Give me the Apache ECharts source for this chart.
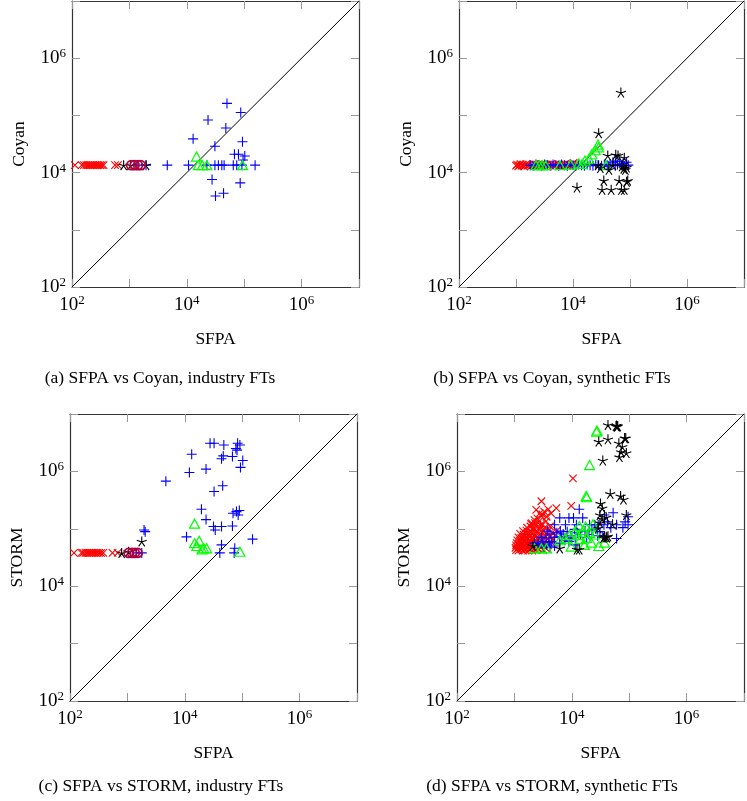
<!DOCTYPE html>
<html><head><meta charset="utf-8">
<script src="https://cdn.jsdelivr.net/npm/echarts@6/dist/echarts.min.js"></script>
<style>html,body{margin:0;padding:0;background:#fff}#c{width:747px;height:801px}</style>
</head><body><div id="c"></div>
<script>
// ---------- (a) SFPA vs Coyan, industry FTs ----------
const a_red = [[2.05,4.13],[2.17,4.13],[2.21,4.13],[2.25,4.13],[2.28,4.13],[2.31,4.13],[2.34,4.13],[2.37,4.13],[2.40,4.13],[2.43,4.13],[2.46,4.13],[2.49,4.13],[2.52,4.13],[2.55,4.13],[2.75,4.13],[2.80,4.13]];
const a_blue = [[3.13,4.13],[3.29,4.13],[3.66,4.13],[4.03,4.13],[4.11,4.59],[4.37,4.92],[4.49,4.46],[4.44,3.88],[4.50,3.59],[4.64,3.64],[4.70,5.21],[4.68,4.78],[4.94,5.05],[4.97,4.54],[4.83,4.32],[4.90,4.32],[5.01,4.29],[4.98,4.22],[4.93,3.82],[5.19,4.13],[4.35,4.13],[4.49,4.13],[4.61,4.13],[4.65,4.13],[4.81,4.13],[4.87,4.13],[4.96,4.13],[4.55,4.13]];
const a_green = [[4.17,4.28],[4.20,4.13],[4.27,4.13],[4.35,4.13],[4.97,4.13]];
const a_black = [[2.90,4.13],[3.02,4.13],[3.29,4.13]];
const a_purple = [[3.03,4.13],[3.09,4.13],[3.15,4.13],[3.20,4.13]];
// ---------- (b) SFPA vs Coyan, synthetic FTs ----------
const b_red = [[3.00,4.12],[3.02,4.14],[3.04,4.11],[3.06,4.13],[3.08,4.15],[3.10,4.12],[3.12,4.14],[3.14,4.11],[3.16,4.13],[3.18,4.15],[3.20,4.12],[3.23,4.14],[3.26,4.11],[3.29,4.13],[3.32,4.15],[3.35,4.12],[3.38,4.14],[3.41,4.11],[3.44,4.13],[3.47,4.15],[3.50,4.12],[3.53,4.14],[3.56,4.11],[3.59,4.13],[3.62,4.15],[3.65,4.12],[3.68,4.14],[3.71,4.13],[3.74,4.15],[3.77,4.12],[3.80,4.14],[3.83,4.13],[3.86,4.15],[3.89,4.12],[3.92,4.14],[3.95,4.13],[3.98,4.15],[4.01,4.17],[4.04,4.13]];
const b_blue = [[3.25,4.13],[3.30,4.12],[3.35,4.14],[3.40,4.13],[3.45,4.12],[3.50,4.14],[3.55,4.13],[3.60,4.12],[3.65,4.14],[3.70,4.13],[3.75,4.12],[3.80,4.14],[3.85,4.13],[3.90,4.12],[3.95,4.14],[4.00,4.13],[4.05,4.12],[4.10,4.14],[4.15,4.13],[4.20,4.12],[4.25,4.14],[4.30,4.13],[4.35,4.12],[4.40,4.14],[4.45,4.13],[4.50,4.12],[4.55,4.14],[4.60,4.13],[4.65,4.15],[4.70,4.18],[4.74,4.12],[4.78,4.14],[4.82,4.19],[4.85,4.13],[4.88,4.16],[4.91,4.12],[4.94,4.18],[4.97,4.13],[4.75,4.20],[4.62,4.11]];
const b_green = [[3.35,4.13],[3.41,4.13],[3.46,4.13],[3.52,4.13],[3.77,4.13],[3.96,4.14],[4.10,4.16],[4.16,4.15],[4.21,4.21],[4.28,4.24],[4.33,4.32],[4.39,4.39],[4.44,4.49],[4.45,4.44],[4.58,4.13]];
const b_black = [[4.84,5.40],[4.45,4.69],[4.07,3.74],[4.61,4.30],[4.75,4.31],[4.79,4.30],[4.90,4.26],[4.48,4.08],[4.63,4.05],[4.89,4.07],[4.92,4.05],[4.94,4.09],[4.54,3.86],[4.81,3.86],[4.96,3.86],[4.94,3.84],[4.51,3.70],[4.67,3.70],[4.85,3.70],[4.90,3.70],[4.44,4.13],[4.70,4.13],[4.86,4.11]];
const b_purple = [];
// ---------- (c) SFPA vs STORM, industry FTs ----------
const c_red = [[2.07,4.58],[2.20,4.58],[2.23,4.58],[2.27,4.58],[2.30,4.58],[2.33,4.58],[2.36,4.58],[2.39,4.58],[2.42,4.58],[2.45,4.58],[2.48,4.58],[2.51,4.58],[2.54,4.58],[2.58,4.58],[2.74,4.58],[2.83,4.58]];
const c_blue = [[3.29,4.98],[3.31,4.95],[3.16,4.58],[3.25,4.58],[3.67,5.83],[4.03,4.86],[4.08,5.98],[4.12,6.30],[4.29,5.34],[4.37,6.04],[4.37,5.16],[4.44,6.49],[4.51,6.49],[4.51,5.65],[4.50,5.04],[4.53,4.98],[4.64,5.04],[4.64,6.22],[4.67,6.27],[4.68,6.46],[4.66,5.75],[4.64,4.72],[4.61,4.58],[4.83,6.26],[4.84,5.27],[4.83,5.05],[4.87,4.66],[4.89,6.40],[4.92,6.49],[4.96,6.46],[4.91,6.37],[4.93,5.24],[4.90,5.30],[4.95,5.32],[5.01,6.19],[4.97,6.07],[5.18,4.82],[4.86,4.58]];
const c_green = [[4.17,5.09],[4.17,4.75],[4.25,4.79],[4.21,4.70],[4.33,4.66],[4.38,4.66],[4.30,4.64],[4.96,4.60]];
const c_black = [[2.90,4.58],[3.02,4.60],[3.25,4.78]];
const c_purple = [[3.02,4.58],[3.08,4.58],[3.13,4.58],[3.18,4.58]];
// ---------- (d) SFPA vs STORM, synthetic FTs ----------
const d_red = [[4.02,5.88],[3.47,5.48],[3.59,5.34],[3.73,5.36],[3.99,5.40],[3.38,5.33],[3.44,5.27],[3.49,5.25],[3.56,5.21],[3.64,5.27],[3.35,5.15],[3.30,5.10],[3.52,5.30],
 [3.03,4.63],[3.07,4.62],[3.12,4.64],[3.15,4.62],[3.19,4.63],[3.24,4.62],[3.28,4.64],[3.31,4.62],[3.37,4.63],[3.43,4.64],[3.50,4.63],
 [3.02,4.67],[3.06,4.66],[3.10,4.68],[3.14,4.67],[3.18,4.66],[3.22,4.68],[3.27,4.66],[3.30,4.67],[3.35,4.69],[3.40,4.66],[3.46,4.68],[3.54,4.67],
 [3.03,4.71],[3.08,4.72],[3.11,4.70],[3.16,4.71],[3.21,4.73],[3.24,4.70],[3.29,4.72],[3.33,4.71],[3.38,4.73],[3.44,4.70],[3.51,4.72],[3.59,4.71],
 [3.04,4.75],[3.09,4.76],[3.13,4.74],[3.18,4.77],[3.22,4.75],[3.26,4.76],[3.30,4.74],[3.35,4.77],[3.41,4.75],[3.48,4.78],[3.56,4.75],[3.64,4.77],
 [3.05,4.80],[3.10,4.79],[3.15,4.81],[3.19,4.80],[3.24,4.82],[3.28,4.79],[3.32,4.81],[3.37,4.80],[3.43,4.82],[3.50,4.80],[3.58,4.83],[3.67,4.81],
 [3.07,4.85],[3.12,4.84],[3.17,4.86],[3.21,4.85],[3.26,4.87],[3.31,4.84],[3.36,4.86],[3.41,4.85],[3.47,4.88],[3.54,4.86],[3.63,4.87],[3.71,4.89],
 [3.10,4.91],[3.16,4.90],[3.21,4.92],[3.26,4.91],[3.31,4.93],[3.36,4.90],[3.42,4.92],[3.48,4.94],[3.56,4.91],[3.66,4.93],
 [3.15,4.96],[3.21,4.97],[3.26,4.95],[3.32,4.98],[3.38,4.96],[3.44,4.99],[3.51,4.97],[3.60,4.98],[3.74,4.97],
 [3.22,5.02],[3.28,5.04],[3.34,5.01],[3.40,5.03],[3.46,5.05],[3.53,5.02],[3.62,5.04],
 [3.29,5.08],[3.36,5.10],[3.42,5.12],[3.48,5.09],[3.55,5.13],[3.40,5.18],[3.47,5.22]];
const d_blue = [[4.13,5.34],[4.72,5.28],[4.57,5.24],[4.98,5.21],[3.79,5.19],[3.95,5.19],[4.03,5.19],[4.19,5.19],[3.70,5.07],[3.89,5.07],[4.08,5.07],[4.31,5.07],[4.40,5.07],[4.46,5.07],[4.56,5.07],[4.78,5.07],[4.89,5.02],[4.98,5.07],[3.80,4.96],[3.85,4.91],[3.92,4.95],[3.98,4.88],[3.82,4.86],[3.58,4.96],[3.62,4.91],[3.55,4.84],[3.65,4.78],[3.60,4.76],[3.47,4.85],[3.49,4.78],[3.42,4.75],[4.15,4.90],[4.23,4.96],[4.26,4.85],[4.78,4.83],[4.49,4.95],[4.54,4.87],[3.79,4.75],[3.88,4.80],[3.35,4.75],[3.41,4.72],[3.56,4.72],[3.70,4.85],[3.74,4.93],[4.05,4.99],[4.10,4.93],[4.35,4.98],[4.42,5.00],[4.62,5.12],[4.68,5.02],[3.95,4.78],[4.00,4.84],[3.70,4.70],[3.62,4.68],[3.50,4.68],[4.30,4.90],[4.45,4.88],[4.06,4.72],[4.93,5.12]];
const d_green = [[4.44,6.71],[4.43,6.69],[4.31,6.11],[4.25,5.57],[4.26,5.55],[4.13,5.05],[4.24,5.04],[4.37,5.08],[4.11,4.89],[3.96,4.89],[3.79,4.80],[3.99,4.69],[4.15,4.82],[4.26,4.84],[4.31,4.93],[4.40,4.90],[4.57,4.76],[4.34,4.76],[3.35,4.66],[3.47,4.66],[3.56,4.66],[3.88,4.83],[4.05,4.95],[4.20,4.98],[4.47,4.70],[4.22,4.72]];
const d_black = [[4.63,6.81],[4.77,6.79],[4.79,6.78],[4.80,6.79],[4.78,6.80],[4.92,6.58],[4.47,6.52],[4.63,6.56],[4.82,6.49],[4.88,6.43],[4.94,6.58],[4.95,6.32],[4.83,6.25],[4.86,6.34],[4.54,6.19],[4.67,5.61],[4.85,5.57],[4.90,5.51],[4.50,5.44],[4.53,5.36],[4.95,5.24],[4.49,5.24],[4.60,5.20],[4.53,5.17],[4.71,5.08],[4.46,5.01],[4.49,5.10],[4.57,4.86],[4.60,4.86],[4.63,4.87],[4.55,4.84],[3.79,4.66],[4.13,4.64],[4.09,4.64],[3.32,4.70],[4.61,4.85]];
const d_purple = [];
// diagonal y = x
const diagonal = [[1e2,1e2],[1e7,1e7]];
const axisMin = 1e2, axisMax = 1e7;
const xTitle = 'SFPA';
const yTitles = ['Coyan','Coyan','STORM','STORM'];
const captions = ['(a) SFPA vs Coyan, industry FTs','(b) SFPA vs Coyan, synthetic FTs','(c) SFPA vs STORM, industry FTs','(d) SFPA vs STORM, synthetic FTs'];

const panels = [
  {red:a_red, blue:a_blue, green:a_green, black:a_black, purple:a_purple},
  {red:b_red, blue:b_blue, green:b_green, black:b_black, purple:b_purple},
  {red:c_red, blue:c_blue, green:c_green, black:c_black, purple:c_purple},
  {red:d_red, blue:d_blue, green:d_green, black:d_black, purple:d_purple}
];
// layout
const gridPos = [{left:72,top:1,w:287,h:286},{left:459,top:1,w:287,h:286},{left:70,top:414,w:287,h:287},{left:457,top:414,w:287,h:287}];
const capPos = [[160,378],[552,378],[161,786],[552,786]];

const FONT = '"Liberation Serif", "Times New Roman", serif';
const SYM = {
  plus: 'path://M5 0L5 10M0 5L10 5',
  cross: 'path://M0 0L10 10M10 0L0 10',
  star: 'path://M5 5L5 0M5 5L9.755 3.455M5 5L7.939 9.045M5 5L2.061 9.045M5 5L0.245 3.455'
};
const toVal = arr => arr.map(p => [Math.pow(10,p[0]), Math.pow(10,p[1])]);
const lbl = v => { const e = Math.round(Math.log10(v)); return (e % 2 === 0) ? '{b|10}{s|' + e + '}' : ''; };
const rich = { b:{fontSize:19, fontFamily:FONT, color:'#000', lineHeight:22}, s:{fontSize:13, fontFamily:FONT, color:'#000', verticalAlign:'top', lineHeight:22} };
const tickStyle = {show:true, inside:true, length:8, lineStyle:{color:'#999', width:1}};
const lineStyle = {show:true, lineStyle:{color:'#333', width:1.2}};

const grid=[], xAxis=[], yAxis=[], series=[], graphic=[];
gridPos.forEach((g,i) => {
  grid.push({left:g.left, top:g.top, width:g.w, height:g.h, containLabel:false, show:false});
  const base = {type:'log', logBase:10, gridIndex:i, min:axisMin, max:axisMax, splitNumber:5, splitLine:{show:false}, minorTick:{show:false}, axisLine:lineStyle, axisTick:tickStyle};
  xAxis.push(Object.assign({}, base, {position:'bottom', name:xTitle, nameLocation:'middle', nameGap:43,
    nameTextStyle:{fontSize:17.5, fontFamily:FONT, color:'#000'},
    axisLabel:{show:true, margin:7, formatter:lbl, rich:rich, showMinLabel:true, showMaxLabel:true}}));
  xAxis.push(Object.assign({}, base, {position:'top', axisLabel:{show:false}}));
  yAxis.push(Object.assign({}, base, {position:'left', name:yTitles[i], nameLocation:'middle', nameGap:44, nameRotate:90,
    nameTextStyle:{fontSize:17.5, fontFamily:FONT, color:'#000'},
    axisLabel:{show:true, margin:6, formatter:lbl, rich:rich, showMinLabel:true, showMaxLabel:true}}));
  yAxis.push(Object.assign({}, base, {position:'right', axisLabel:{show:false}}));
  const xi = 2*i, yi = 2*i;
  series.push({type:'line', xAxisIndex:xi, yAxisIndex:yi, data:diagonal, symbol:'none', silent:true, lineStyle:{color:'#000', width:1}, z:1});
  const p = panels[i];
  const mk = (data, symbol, size, color, w) => ({type:'scatter', xAxisIndex:xi, yAxisIndex:yi, data:toVal(data), symbol:symbol, symbolSize:size, silent:true,
      itemStyle:{color:'rgba(0,0,0,0)', borderColor:color, borderWidth:w, opacity:1}, z:2});
  series.push(mk(p.red, SYM.cross, 7.5, '#ff0000', 1.1));
  series.push(mk(p.blue, SYM.plus, 10, '#0000ff', 1.1));
  series.push(mk(p.green, 'triangle', [10,9], '#00ff00', 1.2));
  series.push(mk(p.black, SYM.star, 10, '#000000', 1.1));
  series.push(mk(p.purple, 'circle', 9, '#b00040', 1.7));
  graphic.push({type:'text', x:capPos[i][0], y:capPos[i][1], style:{text:captions[i], font:'17.5px ' + FONT, fill:'#000', textAlign:'center', textVerticalAlign:'middle', align:'center', verticalAlign:'middle'}});
});

const chart = echarts.init(document.getElementById('c'), null, {renderer:'canvas'});
chart.setOption({animation:false, backgroundColor:'#fff', grid, xAxis, yAxis, series, graphic});
</script></body></html>
